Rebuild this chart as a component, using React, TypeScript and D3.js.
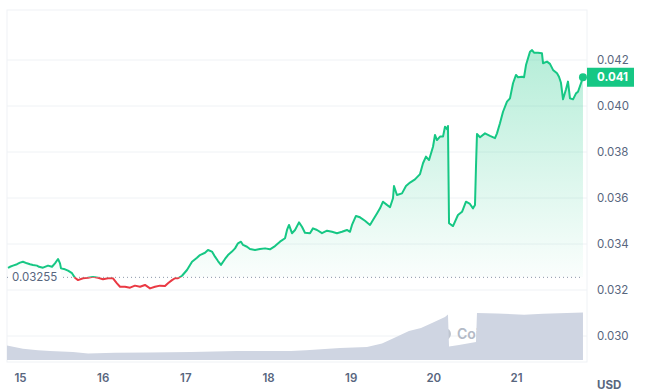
import React, { useEffect, useRef } from 'react';
import * as d3 from 'd3';

// [day of month (UTC, fractional), price in USD]
const priceSeries: [number, number][] = [
  [14.855, 0.03296], [14.879, 0.03301], [14.915, 0.03306], [14.964, 0.03312], [15.0, 0.03319],
  [15.036, 0.03323], [15.085, 0.03316], [15.121, 0.03312], [15.157, 0.03309], [15.206, 0.03306],
  [15.23, 0.03301], [15.278, 0.03297], [15.339, 0.03306], [15.387, 0.03301], [15.423, 0.03316],
  [15.46, 0.03335], [15.484, 0.03316], [15.496, 0.03294], [15.544, 0.0329], [15.581, 0.03284],
  [15.629, 0.03273], [15.665, 0.03253], [15.702, 0.03243], [15.762, 0.03251], [15.823, 0.03253],
  [15.883, 0.03257], [15.944, 0.03253], [16.004, 0.03247], [16.064, 0.03251], [16.125, 0.03251],
  [16.173, 0.03229], [16.21, 0.03214], [16.27, 0.03214], [16.331, 0.0321], [16.391, 0.03219],
  [16.452, 0.03214], [16.512, 0.03222], [16.573, 0.03207], [16.633, 0.03214], [16.693, 0.03219],
  [16.754, 0.03217], [16.79, 0.03229], [16.839, 0.03243], [16.875, 0.03251], [16.911, 0.03251],
  [16.96, 0.03262], [17.02, 0.03287], [17.081, 0.03323], [17.141, 0.0334], [17.177, 0.03352],
  [17.238, 0.03362], [17.274, 0.03374], [17.322, 0.03367], [17.359, 0.03345], [17.395, 0.03326],
  [17.431, 0.03309], [17.48, 0.03335], [17.516, 0.03352], [17.564, 0.03367], [17.601, 0.03381],
  [17.637, 0.03403], [17.673, 0.0341], [17.698, 0.03396], [17.746, 0.03388], [17.782, 0.03378],
  [17.843, 0.03374], [17.903, 0.03378], [17.964, 0.03381], [18.024, 0.03377], [18.085, 0.03391],
  [18.145, 0.0341], [18.206, 0.03425], [18.23, 0.03461], [18.254, 0.03483], [18.29, 0.03447],
  [18.327, 0.03461], [18.375, 0.03494], [18.411, 0.03475], [18.447, 0.03449], [18.508, 0.03447],
  [18.544, 0.03468], [18.593, 0.03461], [18.653, 0.03447], [18.714, 0.03458], [18.774, 0.03453],
  [18.834, 0.03447], [18.895, 0.03453], [18.955, 0.03461], [18.992, 0.03453], [19.016, 0.03483],
  [19.064, 0.03522], [19.113, 0.03516], [19.173, 0.03501], [19.234, 0.03483], [19.27, 0.03504],
  [19.318, 0.03533], [19.355, 0.03555], [19.391, 0.03584], [19.439, 0.0357], [19.476, 0.0356],
  [19.512, 0.03599], [19.524, 0.03652], [19.56, 0.03613], [19.621, 0.0362], [19.669, 0.03652],
  [19.718, 0.03667], [19.778, 0.03681], [19.839, 0.03704], [19.875, 0.03751], [19.911, 0.0378],
  [19.948, 0.03765], [19.996, 0.03823], [20.02, 0.03874], [20.044, 0.03852], [20.081, 0.03867],
  [20.117, 0.03867], [20.141, 0.0391], [20.165, 0.03899], [20.177, 0.03913], [20.19, 0.0349],
  [20.238, 0.03478], [20.298, 0.03526], [20.347, 0.0354], [20.395, 0.03584], [20.443, 0.03574],
  [20.48, 0.03555], [20.504, 0.0357], [20.516, 0.03736], [20.528, 0.03878], [20.565, 0.03864],
  [20.625, 0.03881], [20.685, 0.0387], [20.746, 0.0386], [20.77, 0.03881], [20.806, 0.03925],
  [20.843, 0.03975], [20.891, 0.04019], [20.927, 0.04033], [20.964, 0.04099], [21.0, 0.04135],
  [21.024, 0.04125], [21.073, 0.04127], [21.097, 0.04125], [21.121, 0.04178], [21.169, 0.04236],
  [21.194, 0.04243], [21.218, 0.04232], [21.266, 0.04232], [21.314, 0.04229], [21.327, 0.04186],
  [21.375, 0.04193], [21.411, 0.04183], [21.448, 0.04157], [21.496, 0.04142], [21.52, 0.04127],
  [21.544, 0.04101], [21.569, 0.04029], [21.605, 0.04073], [21.629, 0.04106], [21.653, 0.04033],
  [21.69, 0.04029], [21.726, 0.04055], [21.75, 0.04062], [21.786, 0.04099], [21.81, 0.04125],
];

// [day of month, 24h volume (millions USD)]
const volumeSeries: [number, number][] = [
  [14.843, 14.4], [15.036, 11.2], [15.218, 9.7], [15.363, 9.0], [15.641, 8.0], [15.823, 6.6],
  [16.149, 7.2], [16.56, 7.5], [17.068, 8.0], [17.625, 9.0], [18.278, 9.0], [18.46, 9.7],
  [18.871, 12.0], [19.197, 13.0], [19.379, 16.6], [19.524, 22.0], [19.705, 29.0], [19.851, 32.0],
  [19.984, 37.0], [20.141, 43.0], [20.177, 45.6], [20.19, 13.4], [20.31, 15.0], [20.516, 18.0],
  [20.528, 47.0], [20.77, 46.6], [21.097, 45.3], [21.327, 46.3], [21.81, 47.5],
];

const dayTicks = [15, 16, 17, 18, 19, 20, 21];
const priceTicks = [0.03, 0.032, 0.034, 0.036, 0.038, 0.04, 0.042];
const basePrice = 0.03255;
const currency = 'USD';

const green = '#16c784';
const red = '#ea3943';
const labelColor = '#58667e';
const gridColor = '#eff2f5';

const toDate = (d: number) => new Date(Date.UTC(2024, 0, 1) + (d - 1) * 864e5);

const PriceChart = () => {
  const svgRef = useRef<SVGSVGElement>(null);

  useEffect(() => {
    const width = 656;
    const height = 392;
    const frame = { left: 7, right: 587, top: 10, bottom: 362 };

    const svg = d3.select(svgRef.current)
      .attr('width', width)
      .attr('height', height)
      .style('font-family', 'Inter, sans-serif');
    svg.selectAll('*').remove();

    const x = d3.scaleUtc()
      .domain([toDate(15), toDate(21)])
      .range([20, 516]);
    const y = d3.scaleLinear()
      .domain([0.03, 0.042])
      .range([336, 60]);
    const yVol = d3.scaleLinear()
      .domain([0, 50])
      .range([360, 310]);

    const yBase = y(basePrice);

    const defs = svg.append('defs');
    const grad = defs.append('linearGradient')
      .attr('id', 'priceFill')
      .attr('gradientUnits', 'userSpaceOnUse')
      .attr('x1', 0).attr('x2', 0)
      .attr('y1', y(0.0425)).attr('y2', yBase);
    grad.append('stop').attr('offset', 0).attr('stop-color', green).attr('stop-opacity', 0.32);
    grad.append('stop').attr('offset', 1).attr('stop-color', green).attr('stop-opacity', 0.02);

    defs.append('clipPath').attr('id', 'clipAbove')
      .append('rect').attr('x', 0).attr('y', 0).attr('width', width).attr('height', yBase);
    defs.append('clipPath').attr('id', 'clipBelow')
      .append('rect').attr('x', 0).attr('y', yBase).attr('width', width).attr('height', height - yBase);

    // frame + horizontal grid
    svg.append('rect')
      .attr('x', frame.left).attr('y', frame.top)
      .attr('width', frame.right - frame.left).attr('height', frame.bottom - frame.top)
      .attr('fill', 'none').attr('stroke', gridColor);
    svg.append('g')
      .selectAll('line')
      .data(priceTicks)
      .enter().append('line')
      .attr('x1', frame.left).attr('x2', frame.right)
      .attr('y1', d => y(d)).attr('y2', d => y(d))
      .attr('stroke', gridColor);

    // watermark, mostly hidden by the volume
    svg.append('circle')
      .attr('cx', 445).attr('cy', 334).attr('r', 6)
      .attr('fill', '#bfc5d0');
    svg.append('text')
      .attr('x', 457).attr('y', 339)
      .attr('font-size', 14).attr('font-weight', 600)
      .attr('fill', '#b3bac6')
      .text('CoinGecko');

    // volume
    svg.append('path')
      .datum(volumeSeries)
      .attr('fill', '#cfd5e2')
      .attr('d', d3.area<[number, number]>()
        .x(d => x(toDate(d[0])))
        .y0(yVol(0))
        .y1(d => yVol(d[1])));

    // price fill
    svg.append('path')
      .datum(priceSeries)
      .attr('clip-path', 'url(#clipAbove)')
      .attr('fill', 'url(#priceFill)')
      .attr('d', d3.area<[number, number]>()
        .x(d => x(toDate(d[0])))
        .y0(yBase)
        .y1(d => y(d[1])));

    // base price dotted line + label
    svg.append('line')
      .attr('x1', frame.left).attr('x2', frame.right - 4)
      .attr('y1', yBase).attr('y2', yBase)
      .attr('stroke', '#8c96a8')
      .attr('stroke-dasharray', '1 3');
    svg.append('rect')
      .attr('x', frame.left + 1).attr('y', yBase - 8)
      .attr('width', 53).attr('height', 16)
      .attr('fill', '#fff');
    svg.append('text')
      .attr('x', 12).attr('y', yBase)
      .attr('dy', '0.35em')
      .attr('font-size', 11.5)
      .attr('fill', labelColor)
      .text(d3.format('.5f')(basePrice));

    // price line, green above base price, red below
    const line = d3.line<[number, number]>()
      .x(d => x(toDate(d[0])))
      .y(d => y(d[1]));
    svg.append('path')
      .datum(priceSeries)
      .attr('clip-path', 'url(#clipAbove)')
      .attr('fill', 'none').attr('stroke', green).attr('stroke-width', 2)
      .attr('stroke-linejoin', 'round')
      .attr('d', line);
    svg.append('path')
      .datum(priceSeries)
      .attr('clip-path', 'url(#clipBelow)')
      .attr('fill', 'none').attr('stroke', red).attr('stroke-width', 2)
      .attr('stroke-linejoin', 'round')
      .attr('d', line);

    const last = priceSeries[priceSeries.length - 1];
    svg.append('circle')
      .attr('cx', x(toDate(last[0]))).attr('cy', y(last[1]))
      .attr('r', 4).attr('fill', green);

    // x axis
    const xAxis = svg.append('g')
      .attr('transform', `translate(0, ${frame.bottom + 4})`)
      .call(d3.axisBottom(x)
        .tickValues(dayTicks.map(toDate))
        .tickFormat(d3.utcFormat('%-d') as any)
        .tickSize(0)
        .tickPadding(8));
    xAxis.select('.domain').remove();
    xAxis.selectAll('text')
      .attr('font-family', 'Inter, sans-serif')
      .attr('font-size', 11.5)
      .attr('font-weight', 600)
      .attr('fill', labelColor);

    // y axis
    const yAxis = svg.append('g')
      .attr('transform', `translate(${frame.right}, 0)`)
      .call(d3.axisRight(y)
        .tickValues(priceTicks)
        .tickFormat(d3.format('.3f') as any)
        .tickSize(0)
        .tickPadding(10));
    yAxis.select('.domain').remove();
    yAxis.selectAll('text')
      .attr('font-family', 'Inter, sans-serif')
      .attr('font-size', 11.5)
      .attr('fill', labelColor);

    // current price tag
    const tagY = y(last[1]);
    svg.append('rect')
      .attr('x', frame.right).attr('y', tagY - 9.5)
      .attr('width', 47).attr('height', 19)
      .attr('fill', green);
    svg.append('text')
      .attr('x', frame.right + 10).attr('y', tagY)
      .attr('dy', '0.35em')
      .attr('font-size', 11.5).attr('font-weight', 700)
      .attr('fill', '#fff')
      .text(d3.format('.3f')(last[1]));

    svg.append('text')
      .attr('x', frame.right + 10).attr('y', 389)
      .attr('font-size', 11.5).attr('font-weight', 700)
      .attr('fill', labelColor)
      .text(currency);
  }, []);

  return <svg ref={svgRef} style={{ position: 'absolute', left: 0, top: 0 }}></svg>;
};

export default function App() {
  return <PriceChart />;
}
